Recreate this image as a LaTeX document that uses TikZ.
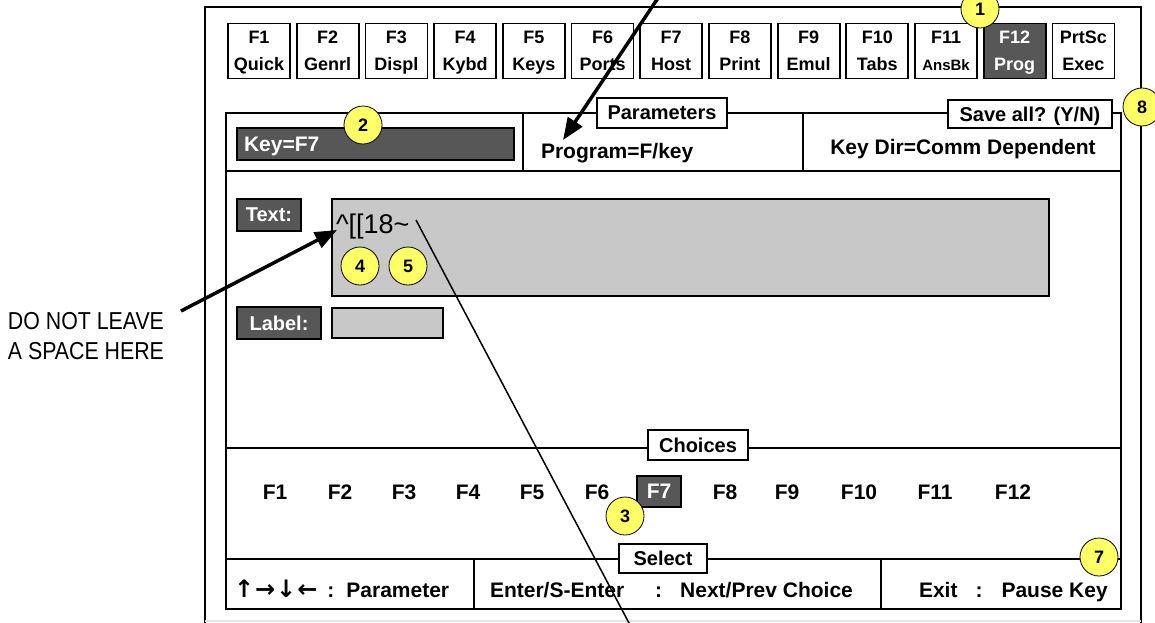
\documentclass[tikz,border=0pt]{standalone}
\usepackage{fontspec}
\setmainfont{Liberation Sans}
\newfontfamily\notefont[FakeStretch=0.87]{Liberation Sans}
\newfontfamily\arrowfont{DejaVu Sans}
\usetikzlibrary{arrows.meta}
\definecolor{keydark}{HTML}{575757}
\definecolor{fieldgray}{HTML}{C8C8C8}
\definecolor{tagyellow}{HTML}{FFFF66}
\tikzset{>={Triangle[length=22pt,width=17pt]}}
\tikzset{%
  keybox/.style={draw, line width=1.8pt, minimum width=62pt, minimum height=55pt, inner sep=0pt, align=center, text depth=0pt, font=\bfseries\fontsize{18}{27.4}\selectfont},
  titlebox/.style={draw, fill=white, line width=1.8pt, inner sep=0pt, text depth=0pt, font=\bfseries\fontsize{20}{24}\selectfont},
  darkbox/.style={draw, fill=keydark, text=white, line width=1.8pt, inner sep=0pt, text depth=0pt, font=\bfseries\fontsize{20}{24}\selectfont},
  field/.style={draw, fill=fieldgray, line width=1.8pt, inner sep=0pt},
  bigtext/.style={inner sep=0pt, font=\bfseries\fontsize{21}{25}\selectfont},
  callout/.style={circle, draw, fill=tagyellow, line width=0.8pt, minimum size=38pt, inner sep=0pt, font=\bfseries\fontsize{18}{20}\selectfont},
  pointer/.style={->, line width=3.5pt},
  leader/.style={line width=1.5pt},
}
\begin{document}
\begin{tikzpicture}[x=1pt, y=-1pt, line width=2pt]
  \useasboundingbox (0,0) rectangle (1155,622);
  \clip (0,0) rectangle (1155,622);

  % outer screen frame, open at the bottom
  \draw (205,640) -- (205,7) -- (1141,7) -- (1141,640);
  \draw[gray!20, line width=1.5pt] (205,621) -- (1141,621);

  % function key row
  \foreach \k/\name/\fc/\tc [count=\i from 0] in {F1/Quick/white/black, F2/Genrl/white/black, F3/Displ/white/black, F4/Kybd/white/black, F5/Keys/white/black, F6/Ports/white/black, F7/Host/white/black, F8/Print/white/black, F9/Emul/white/black, F10/Tabs/white/black, F11/{\fontsize{15}{27.4}\selectfont AnsBk}/white/black, F12/Prog/keydark/white, PrtSc/Exec/white/black}
    \node[keybox, fill=\fc, text=\tc] (key\i) at ({259+68.7*\i},51) {\k\\\name};

  % main panel and its dividers
  \draw (226,113) rectangle (1121,609);
  \draw (226,171) -- (1121,171);
  \draw (523,113) -- (523,171);
  \draw (803,113) -- (803,171);
  \draw (226,448) -- (1121,448);
  \draw (226,559) -- (1121,559);
  \draw (474,559) -- (474,609);
  \draw (881,559) -- (881,609);

  % titles sitting on the dividers
  \node[titlebox, minimum width=130pt, minimum height=30pt] (params) at (662,113) {Parameters};
  \node[titlebox, minimum width=164pt, minimum height=28pt] (saveall) at (1030,114) {Save all? (Y/N)};
  \node[titlebox, minimum width=100pt, minimum height=30pt] (choices) at (698,445) {Choices};
  \node[titlebox, minimum width=88pt, minimum height=29pt] (select) at (663,558.5) {Select};

  % parameter row
  \node[darkbox, minimum width=277pt, minimum height=32pt, text width=263pt, align=left, font=\bfseries\fontsize{21}{24}\selectfont] (keyfield) at (375.5,144) {Key=F7};
  \node[bigtext, anchor=base west] (program) at (540,158) {Program=F/key};
  \node[bigtext, anchor=base] (keydir) at (963,154) {Key Dir=Comm Dependent};

  % text and label fields
  \node[darkbox, minimum width=64pt, minimum height=32pt] (textlbl) at (269,215) {Text:};
  \node[field, minimum width=717pt, minimum height=97pt] (textfield) at (690.5,247.5) {};
  \node[anchor=base west, inner sep=0pt, font=\fontsize{27}{30}\selectfont] (textval) at (335,233) {\textasciicircum[[18\textasciitilde};
  \node[darkbox, minimum width=84pt, minimum height=32pt] (labellbl) at (279,323) {Label:};
  \node[field, minimum width=111pt, minimum height=30pt] (labelfield) at (387.5,323) {};

  % choices row
  \foreach \k/\x in {F1/275, F2/340, F3/404, F4/468, F5/532, F6/597, F8/725, F9/787, F10/859, F11/935, F12/1013}
    \node[bigtext, anchor=base] (ch\k) at (\x,499) {\k};
  \node[darkbox, minimum width=44pt, minimum height=31pt, font=\bfseries\fontsize{21}{24}\selectfont] (chF7) at (659,491.5) {F7};

  % key help bar
  \node[bigtext, anchor=base west] (movekeys) at (233,597) {{\arrowfont\fontsize{24}{25}\selectfont ↑\kern1pt→\kern1pt↓\kern1pt←}\hspace{10pt}:\hspace{12pt}Parameter};
  \node[bigtext, anchor=base west] (enterkeys) at (489,597) {Enter/S-Enter\hspace{31pt}:\hspace{18pt}Next/Prev Choice};
  \node[bigtext, anchor=base west] (exitkeys) at (918,597) {Exit\hspace{18pt}:\hspace{19pt}Pause Key};

  % side note
  \node[anchor=north west, inner sep=0pt, align=left, font=\notefont\fontsize{24.5}{30}\selectfont] (note) at (7,311.7) {DO NOT LEAVE\\A SPACE HERE};

  % pointers
  \coordinate (topstart) at (666,-14);
  \coordinate (progtip) at (563,140);
  \coordinate (notetail) at (181,311);
  \coordinate (gaptip) at (337,230);
  \coordinate (tildeend) at (416,220);
  \coordinate (offbottom) at (639,642);
  \draw[pointer] (topstart) -- (progtip);
  \draw[pointer] (notetail) -- (gaptip);
  \draw[leader] (tildeend) -- (offbottom);

  % numbered callouts
  \node[callout] (call1) at (980,9) {1};
  \node[callout] (call2) at (363,125) {2};
  \node[callout] (call3) at (625,516) {3};
  \node[callout] (call4) at (360,266) {4};
  \node[callout] (call5) at (408,266) {5};
  \node[callout] (call7) at (1099,557) {7};
  \node[callout] (call8) at (1142,107) {8};
\end{tikzpicture}
\end{document}
